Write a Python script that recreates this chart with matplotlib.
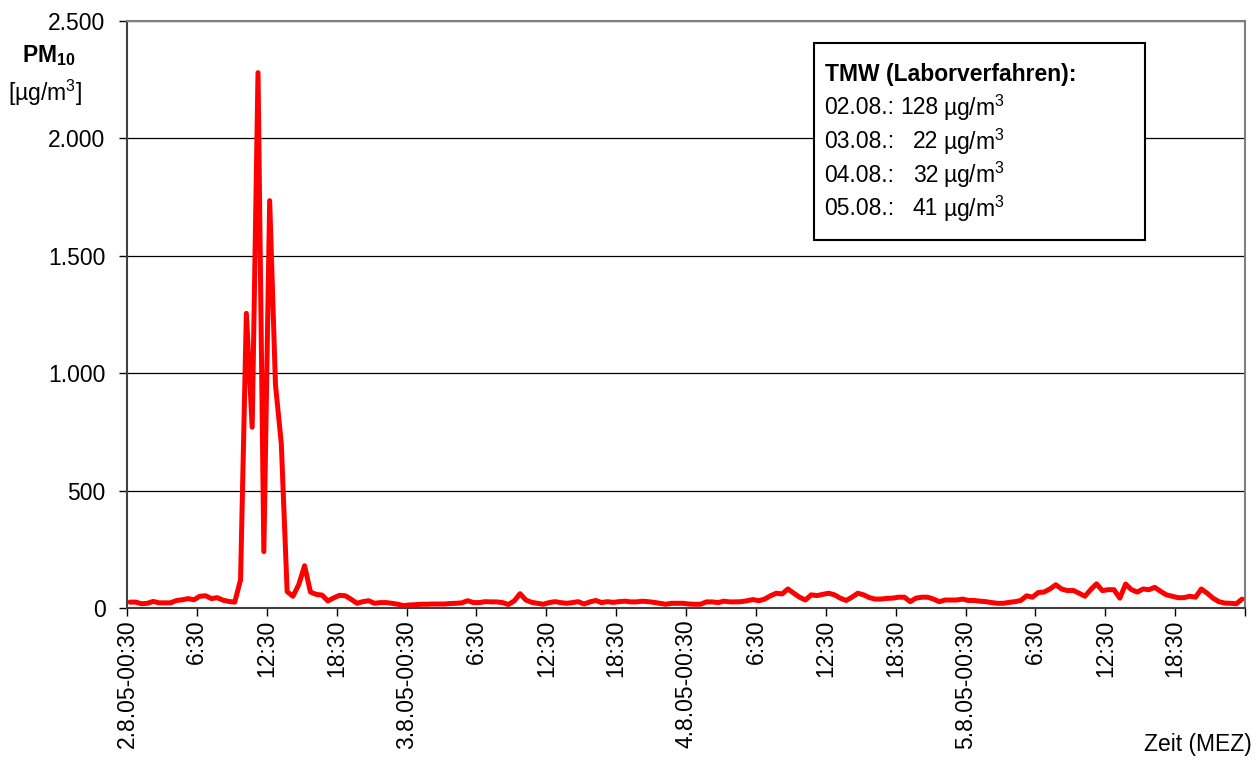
import numpy as np
import matplotlib
matplotlib.use('Agg')
import matplotlib.pyplot as plt
from matplotlib.ticker import FuncFormatter

plt.rcParams['font.family'] = ['Liberation Sans', 'DejaVu Sans']
plt.rcParams['mathtext.fontset'] = 'custom'
plt.rcParams['mathtext.rm'] = 'Liberation Sans'
plt.rcParams['mathtext.bf'] = 'Liberation Sans:bold'
plt.rcParams['mathtext.default'] = 'regular'

# half-hourly PM10 values, 2.8.05 00:30 .. 5.8.05 24:00
pm10 = [
    25, 25, 18, 20, 28, 22, 22, 22, 32, 35, 40, 35,
    50, 52, 40, 44, 33, 28, 25, 120, 1255, 770, 2280, 240,
    1735, 950, 700, 70, 50, 100, 180, 68, 58, 55, 30, 43,
    54, 52, 37, 20, 27, 31, 20, 23, 23, 20, 16, 10,
    13, 14, 16, 16, 17, 17, 17, 19, 20, 22, 31, 23,
    23, 27, 26, 26, 23, 15, 30, 61, 34, 24, 20, 16,
    23, 27, 23, 20, 23, 27, 17, 26, 32, 23, 27, 24,
    27, 29, 26, 26, 29, 27, 24, 20, 16, 20, 20, 20,
    17, 16, 16, 26, 26, 23, 29, 26, 26, 27, 31, 36,
    31, 38, 52, 63, 60, 81, 63, 46, 34, 56, 53, 58,
    63, 56, 42, 32, 46, 63, 56, 44, 38, 38, 41, 42,
    46, 46, 27, 42, 46, 46, 38, 27, 34, 34, 34, 38,
    32, 32, 29, 27, 23, 20, 20, 24, 27, 32, 52, 46,
    66, 68, 81, 99, 81, 74, 75, 63, 50, 78, 103, 74,
    78, 78, 42, 102, 78, 68, 81, 78, 88, 71, 56, 50,
    44, 44, 50, 46, 81, 63, 42, 27, 21, 20, 18, 38,
]

tick_pos = list(range(0, 193, 12))
tick_labels = ['2.8.05-00:30', '6:30', '12:30', '18:30',
               '3.8.05-00:30', '6:30', '12:30', '18:30',
               '4.8.05-00:30', '6:30', '12:30', '18:30',
               '5.8.05-00:30', '6:30', '12:30', '18:30', '']

tmw_days = ['02.08.:', '03.08.:', '04.08.:', '05.08.:']
tmw_vals = [128, 22, 32, 41]

fs = 16.5

fig = plt.figure(figsize=(12.59, 7.6), dpi=100)
ax = fig.add_axes([127 / 1259, 1 - 608 / 760, (1245 - 127) / 1259, (608 - 21) / 760])

x = np.arange(len(pm10)) + 0.5
ax.plot(x, pm10, color='#ff0000', linewidth=3.6, solid_joinstyle='round',
        solid_capstyle='round', zorder=3)

ax.set_xlim(0, 192)
ax.set_ylim(0, 2500)
ax.set_yticks(range(0, 2501, 500))
ax.yaxis.set_major_formatter(FuncFormatter(lambda v, p: f'{int(v):,}'.replace(',', '.')))
ax.set_xticks(tick_pos)
ax.set_xticklabels(tick_labels, rotation=90)
ax.tick_params(axis='both', direction='out', length=5.5, width=1, labelsize=fs, color='black')
ax.tick_params(axis='y', pad=10)
ax.tick_params(axis='x', pad=3)
ax.grid(axis='y', color='black', linewidth=0.9)
ax.set_axisbelow(True)

for s in ['top', 'right']:
    ax.spines[s].set_color('#808080')
    ax.spines[s].set_linewidth(1.5)
for s in ['left', 'bottom']:
    ax.spines[s].set_color('#404040')
    ax.spines[s].set_linewidth(1.5)

fig.text(22 / 1259, 1 - 56 / 760, r'PM$_{10}$', fontsize=fs, fontweight='bold',
         ha='left', va='center')
fig.text(8 / 1259, 1 - 93 / 760, r'[µg/m$^3$]', fontsize=fs, ha='left', va='center')
fig.text(1252 / 1259, 1 - 745 / 760, 'Zeit (MEZ)', fontsize=fs, ha='right', va='center')

# TMW box
box = plt.Rectangle((814 / 1259, 1 - 240 / 760), (1145 - 814) / 1259, (240 - 43) / 760,
                    transform=fig.transFigure, facecolor='white', edgecolor='black',
                    linewidth=1.5, zorder=5)
fig.add_artist(box)
fig.text(825 / 1259, 1 - 74 / 760, 'TMW (Laborverfahren):', fontsize=fs,
         fontweight='bold', ha='left', va='center', zorder=6)
for k, (d, v) in enumerate(zip(tmw_days, tmw_vals)):
    yy = 1 - (108 + 33.5 * k) / 760
    fig.text(824 / 1259, yy, d, fontsize=fs, ha='left', va='center', zorder=6)
    fig.text(938 / 1259, yy, f'{v}', fontsize=fs, ha='right', va='center', zorder=6)
    fig.text(943 / 1259, yy, r'µg/m$^3$', fontsize=fs, ha='left', va='center', zorder=6)

fig.savefig('out.png', dpi=100)
